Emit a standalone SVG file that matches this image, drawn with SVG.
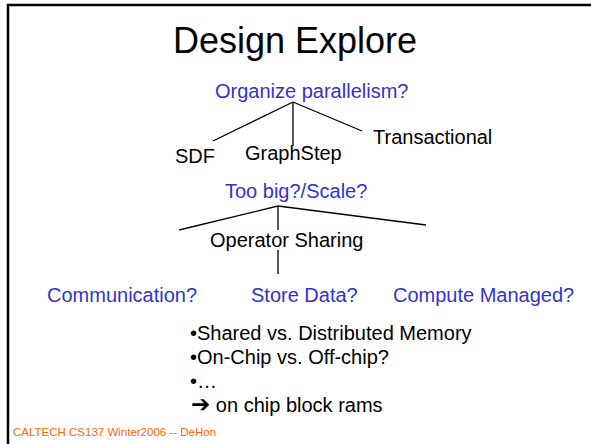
<svg xmlns="http://www.w3.org/2000/svg" width="591" height="444" viewBox="0 0 591 444">
  <style>
    text { font-family: "Liberation Sans", Arial, sans-serif; }
    .title { font-size: 36px; fill: #000; text-anchor: middle; }
    .q { font-size: 20px; fill: #3333cc; }
    .opt { font-size: 20px; fill: #000; }
    .body { font-size: 20px; fill: #000; }
    .foot { font-size: 11.5px; fill: #ff6600; }
    .edge { stroke: #000; stroke-width: 1.3; fill: none; }
    .frame { stroke: #000; stroke-width: 2.5; fill: none; }
  </style>
  <rect width="591" height="444" fill="#fff"/>
  <!-- slide frame (top and left edges) -->
  <path class="frame" d="M8,444 V5 H591"/>

  <text class="title" x="295" y="53">Design Explore</text>

  <g id="connectors">
    <path class="edge" d="M293,102 L213,141"/>
    <path class="edge" d="M293,102 V146"/>
    <path class="edge" d="M293,102 L362,131"/>
    <path class="edge" d="M278,206 L179,230"/>
    <path class="edge" d="M278,206 L426,225"/>
    <path class="edge" d="M278,206 V274"/>
  </g>

  <g id="organize">
    <text class="q" x="215" y="98">Organize parallelism?</text>
  </g>
  <g id="sdf">
    <text class="opt" x="175" y="163">SDF</text>
  </g>
  <g id="graphstep">
    <text class="opt" x="245" y="160">GraphStep</text>
  </g>
  <g id="transactional">
    <text class="opt" x="373" y="144">Transactional</text>
  </g>
  <g id="scale">
    <text class="q" x="225" y="198">Too big?/Scale?</text>
  </g>
  <g id="sharing">
    <rect x="206" y="230" width="158" height="20" fill="#fff"/>
    <text class="opt" x="210" y="247">Operator Sharing</text>
  </g>
  <g id="communication">
    <text class="q" x="47" y="302">Communication?</text>
  </g>
  <g id="store">
    <text class="q" x="251" y="302">Store Data?</text>
  </g>
  <g id="compute">
    <text class="q" x="393" y="302">Compute Managed?</text>
  </g>

  <g id="notes">
    <text class="body" x="190" y="340">•Shared vs. Distributed Memory</text>
    <text class="body" x="190" y="364">•On-Chip vs. Off-chip?</text>
    <text class="body" x="190" y="388">•…</text>
    <text class="body" x="191" y="412"><tspan font-family="DejaVu Sans, sans-serif" font-size="23" font-weight="bold">➔</tspan> on chip block rams</text>
  </g>

  <text class="foot" x="13" y="436">CALTECH CS137 Winter2006 -- DeHon</text>
</svg>
